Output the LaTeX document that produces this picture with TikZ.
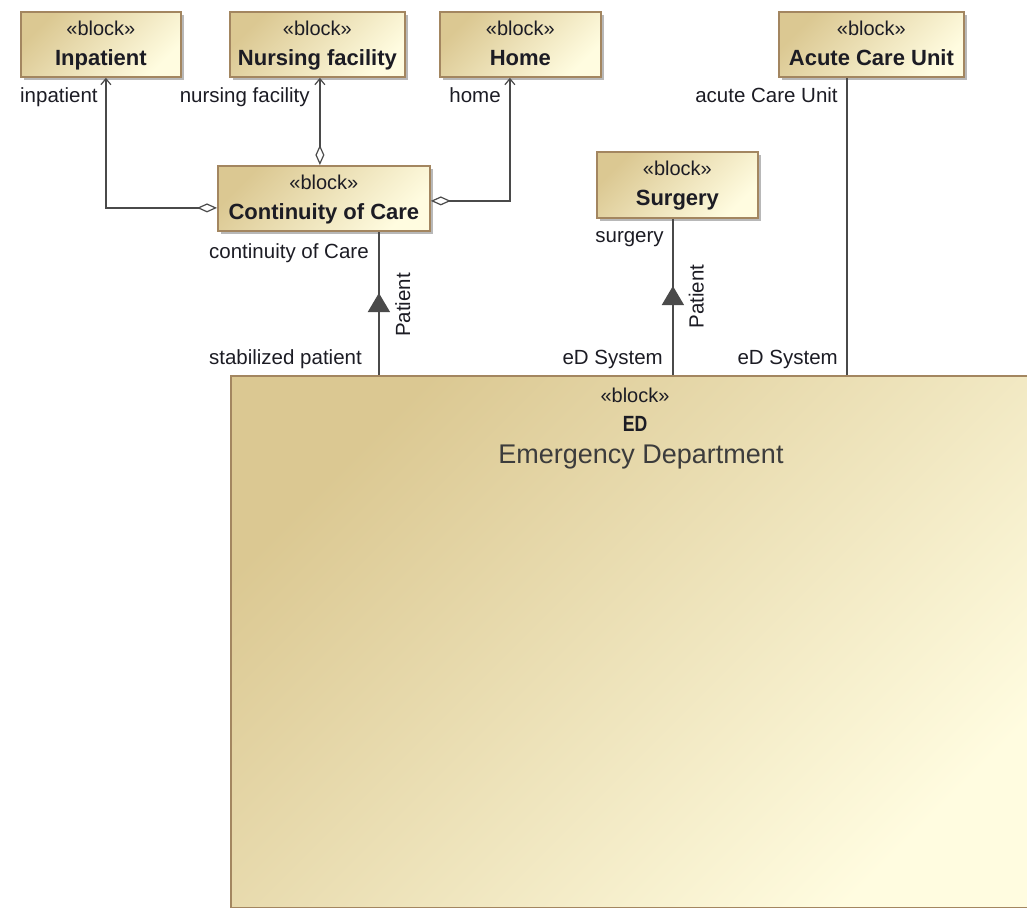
\documentclass[tikz,border=0pt]{standalone}
\usepackage{fontspec}
\setmainfont{Liberation Sans}
\usepackage{graphicx}
\usetikzlibrary{arrows.meta,shadows,decorations.markings}

\definecolor{blkTan}{HTML}{DBC892}
\definecolor{blkCream}{HTML}{FFFCE0}
\definecolor{blkEdge}{HTML}{A38660}
\definecolor{wireGrey}{HTML}{4A4A4A}
\definecolor{ink}{HTML}{1C1C24}
\definecolor{edInk}{HTML}{3C3C3C}

\tikzset{
  blk/.style={draw=blkEdge, line width=1.8pt, shading=axis, top color=blkTan,
    bottom color=blkCream, shading angle=45, inner sep=0pt,
    general shadow={fill=black!28, shadow xshift=3pt, shadow yshift=-3pt}},
  stereotxt/.style={font=\fontsize{20}{24}\selectfont, text=ink, inner sep=0pt, anchor=base},
  nametxt/.style={font=\fontsize{22}{26}\selectfont\bfseries, text=ink, inner sep=0pt, anchor=base},
  roletxt/.style={font=\fontsize{20.5}{24}\selectfont, text=ink, inner sep=0pt, anchor=base east},
  flowtxt/.style={font=\fontsize{20.5}{24}\selectfont, text=ink, inner sep=0pt, rotate=90},
  wire/.style={draw=wireGrey, line width=1.4pt},
  part/.style={wire, {Diamond[open, length=20pt, width=9pt, line width=1.2pt]}-{Straight Barb[length=6pt, width=10pt, line width=1.2pt]}},
  flowmark/.style={postaction={decorate}, decoration={markings,
    mark=at position #1 with {\arrow{Triangle[length=19pt, width=22pt]}}}},
}

% block: name, left x, top y, width, height, title
\newcommand\sysblock[6]{%
  \node[blk, anchor=north west, minimum width=#4, minimum height=#5] (#1) at (#2,#3) {};
  \node[stereotxt] (#1-stereo) at ([yshift=-24.5]#1.north) {«block»};
  \node[nametxt] (#1-name) at ([yshift=-54]#1.north) {#6};
}

\begin{document}
\begin{tikzpicture}[x=1pt, y=-1pt]
  \useasboundingbox (0,0) rectangle (1027,907);
  \clip (0,0) rectangle (1027,907);

  % the Emergency Department block
  \node[blk, anchor=north west, minimum width=812, minimum height=531.5] (ed) at (230,375) {};
  \node[stereotxt] (ed-stereo) at ([xshift=405, yshift=-27]ed.north west) {«block»};
  \node[nametxt] (ed-name) at ([xshift=405, yshift=-56]ed.north west) {\scalebox{0.8}[1]{ED}};
  \node[font=\fontsize{27}{32}\selectfont, text=edInk, inner sep=0pt, anchor=base]
    (ed-desc) at ([xshift=411, yshift=-88]ed.north west) {Emergency Department};

  % surrounding blocks
  \sysblock{inpatient}{20}{11}{160}{65}{Inpatient}
  \sysblock{nursing}{229}{11}{175}{65}{Nursing facility}
  \sysblock{home}{439}{11}{161}{65}{Home}
  \sysblock{acute}{778}{11}{185}{65}{Acute Care Unit}
  \sysblock{ccare}{217}{165}{212}{65}{Continuity of Care}
  \sysblock{surgery}{596}{151}{161}{66}{Surgery}

  % part associations owned by Continuity of Care
  \draw[part] ([yshift=-9.5]ccare.west) -| ([xshift=5]inpatient.south);
  \draw[part] ([xshift=-4]ccare.north) -- ([xshift=2.5]nursing.south);
  \draw[part] ([yshift=-2.5]ccare.east) -| ([xshift=-10.5]home.south);

  \node[roletxt] (inpatient-role) at ([xshift=-3, yshift=-25]inpatient.south) {inpatient};
  \node[roletxt] (nursing-role) at ([xshift=-7.5, yshift=-25]nursing.south) {nursing facility};
  \node[roletxt] (home-role) at ([xshift=-19.5, yshift=-25]home.south) {home};
  \node[roletxt] (acute-role) at ([xshift=-33.5, yshift=-25]acute.south) {acute Care Unit};
  \node[roletxt] (ccare-role) at ([xshift=45, yshift=-27]ccare.south) {continuity of Care};
  \node[roletxt] (surgery-role) at ([xshift=-13.5, yshift=-24]surgery.south) {surgery};

  % connectors from the ED block
  \coordinate (ccare-port) at ([xshift=55]ccare.south);
  \coordinate (ccare-foot) at (ccare-port |- ed.north);
  \draw[wire, flowmark=82pt] (ccare-foot) -- (ccare-port);
  \node[flowtxt] (ccare-flow) at ([xshift=24, yshift=70]ccare-foot) {Patient};

  \coordinate (surgery-port) at ([xshift=-4.5]surgery.south);
  \coordinate (surgery-foot) at (surgery-port |- ed.north);
  \draw[wire, flowmark=89pt] (surgery-foot) -- (surgery-port);
  \node[flowtxt] (surgery-flow) at ([xshift=23.5, yshift=78.5]surgery-foot) {Patient};

  \coordinate (acute-port) at ([xshift=-24.5]acute.south);
  \coordinate (acute-foot) at (acute-port |- ed.north);
  \draw[wire] (acute-foot) -- (acute-port);

  \node[roletxt] (ed-role-ccare) at ([xshift=132, yshift=11]ed.north west) {stabilized patient};
  \node[roletxt] (ed-role-surgery) at ([xshift=433, yshift=11]ed.north west) {eD System};
  \node[roletxt] (ed-role-acute) at ([xshift=608, yshift=11]ed.north west) {eD System};
\end{tikzpicture}
\end{document}
